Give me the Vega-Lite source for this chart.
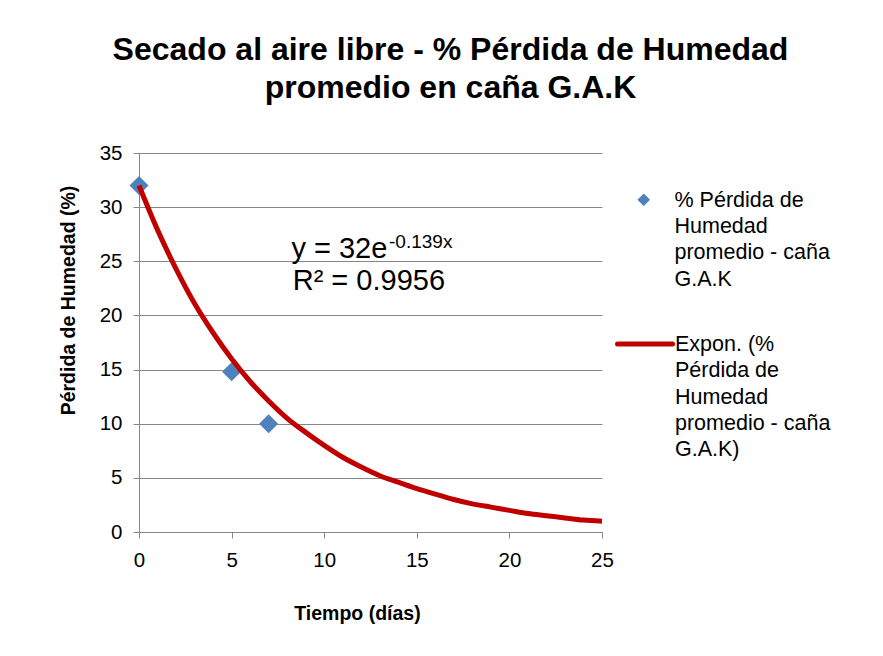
{
  "$schema": "https://vega.github.io/schema/vega-lite/v6.json",
  "width": 463,
  "height": 379,
  "autosize": {"type": "none"},
  "padding": {"left": 139, "top": 153, "right": 281, "bottom": 124},
  "background": "white",
  "config": {
    "font": "Liberation Sans",
    "view": {"stroke": null},
    "axis": {
      "domainColor": "#868686",
      "tickColor": "#868686",
      "gridColor": "#868686",
      "gridOpacity": 1,
      "labelColor": "black",
      "titleColor": "black",
      "labelFont": "Liberation Sans",
      "titleFont": "Liberation Sans",
      "labelFontSize": 20.5,
      "titleFontSize": 19.5,
      "titleFontWeight": "bold",
      "tickSize": 6
    },
    "legend": {"labelFont": "Liberation Sans", "labelColor": "black", "labelFontSize": 21.5, "labelLimit": 400, "padding": 0}
  },
  "title": {
    "text": ["Secado al aire libre - % Pérdida de Humedad", "promedio en caña G.A.K"],
    "font": "Liberation Sans",
    "fontSize": 32,
    "fontWeight": "bold",
    "lineHeight": 38,
    "color": "black",
    "anchor": "middle",
    "dx": 80,
    "offset": 38
  },
  "layer": [
    {
      "data": {"values": [
        {"dia": 0, "perdida": 32, "serie": "% Pérdida de Humedad promedio - caña G.A.K"},
        {"dia": 5, "perdida": 14.8, "serie": "% Pérdida de Humedad promedio - caña G.A.K"},
        {"dia": 7, "perdida": 10, "serie": "% Pérdida de Humedad promedio - caña G.A.K"}
      ]},
      "mark": {"type": "point", "shape": "diamond", "filled": true, "size": 361, "opacity": 1},
      "encoding": {
        "x": {"field": "dia", "type": "quantitative", "scale": {"domain": [0, 25], "nice": false},
          "axis": {"title": "Tiempo (días)", "values": [0, 5, 10, 15, 20, 25], "grid": false, "labelPadding": 12, "labelFlush": false,
            "titleX": 218, "titleY": 87, "titleBaseline": "alphabetic", "titleAlign": "center"}},
        "y": {"field": "perdida", "type": "quantitative", "scale": {"domain": [0, 35], "nice": false},
          "axis": {"title": "Pérdida de Humedad (%)", "values": [0, 5, 10, 15, 20, 25, 30, 35], "grid": true, "labelPadding": 11,
            "titleX": -71, "titleY": 147, "titleBaseline": "middle", "titleAlign": "center", "titleAngle": -90}},
        "color": {"field": "serie", "type": "nominal", "scale": {"range": ["#4F81BD"]},
          "legend": {"title": null, "orient": "none", "legendX": 494, "legendY": 36, "symbolType": "diamond", "symbolSize": 160,
            "labelOffset": 20, "labelBaseline": "alphabetic",
            "labelExpr": "['% Pérdida de', 'Humedad', 'promedio - caña', 'G.A.K']",
            "encoding": {"labels": {"dy": {"value": 7}, "lineHeight": {"value": 26.3}}}}}
      }
    },
    {
      "data": {"values": [
        {"dia": 0, "perdida": 32.0, "serie": "Expon. (% Pérdida de Humedad promedio - caña G.A.K)"},
        {"dia": 1, "perdida": 27.9, "serie": "Expon. (% Pérdida de Humedad promedio - caña G.A.K)"},
        {"dia": 2, "perdida": 24.3, "serie": "Expon. (% Pérdida de Humedad promedio - caña G.A.K)"},
        {"dia": 3, "perdida": 21.1, "serie": "Expon. (% Pérdida de Humedad promedio - caña G.A.K)"},
        {"dia": 4, "perdida": 18.4, "serie": "Expon. (% Pérdida de Humedad promedio - caña G.A.K)"},
        {"dia": 5, "perdida": 16.0, "serie": "Expon. (% Pérdida de Humedad promedio - caña G.A.K)"},
        {"dia": 6, "perdida": 13.9, "serie": "Expon. (% Pérdida de Humedad promedio - caña G.A.K)"},
        {"dia": 7, "perdida": 12.1, "serie": "Expon. (% Pérdida de Humedad promedio - caña G.A.K)"},
        {"dia": 8, "perdida": 10.5, "serie": "Expon. (% Pérdida de Humedad promedio - caña G.A.K)"},
        {"dia": 9, "perdida": 9.2, "serie": "Expon. (% Pérdida de Humedad promedio - caña G.A.K)"},
        {"dia": 10, "perdida": 8.0, "serie": "Expon. (% Pérdida de Humedad promedio - caña G.A.K)"},
        {"dia": 11, "perdida": 6.9, "serie": "Expon. (% Pérdida de Humedad promedio - caña G.A.K)"},
        {"dia": 12, "perdida": 6.0, "serie": "Expon. (% Pérdida de Humedad promedio - caña G.A.K)"},
        {"dia": 13, "perdida": 5.2, "serie": "Expon. (% Pérdida de Humedad promedio - caña G.A.K)"},
        {"dia": 14, "perdida": 4.6, "serie": "Expon. (% Pérdida de Humedad promedio - caña G.A.K)"},
        {"dia": 15, "perdida": 4.0, "serie": "Expon. (% Pérdida de Humedad promedio - caña G.A.K)"},
        {"dia": 16, "perdida": 3.5, "serie": "Expon. (% Pérdida de Humedad promedio - caña G.A.K)"},
        {"dia": 17, "perdida": 3.0, "serie": "Expon. (% Pérdida de Humedad promedio - caña G.A.K)"},
        {"dia": 18, "perdida": 2.6, "serie": "Expon. (% Pérdida de Humedad promedio - caña G.A.K)"},
        {"dia": 19, "perdida": 2.3, "serie": "Expon. (% Pérdida de Humedad promedio - caña G.A.K)"},
        {"dia": 20, "perdida": 2.0, "serie": "Expon. (% Pérdida de Humedad promedio - caña G.A.K)"},
        {"dia": 21, "perdida": 1.7, "serie": "Expon. (% Pérdida de Humedad promedio - caña G.A.K)"},
        {"dia": 22, "perdida": 1.5, "serie": "Expon. (% Pérdida de Humedad promedio - caña G.A.K)"},
        {"dia": 23, "perdida": 1.3, "serie": "Expon. (% Pérdida de Humedad promedio - caña G.A.K)"},
        {"dia": 24, "perdida": 1.1, "serie": "Expon. (% Pérdida de Humedad promedio - caña G.A.K)"},
        {"dia": 25, "perdida": 1.0, "serie": "Expon. (% Pérdida de Humedad promedio - caña G.A.K)"}
      ]},
      "mark": {"type": "line", "strokeWidth": 5, "interpolate": "monotone"},
      "encoding": {
        "x": {"field": "dia", "type": "quantitative"},
        "y": {"field": "perdida", "type": "quantitative"},
        "color": {"field": "serie", "type": "nominal", "scale": {"range": ["#C00000"]},
          "legend": {"title": null, "orient": "none", "legendX": 476, "legendY": 161, "symbolType": "stroke", "symbolSize": 3025,
            "symbolStrokeWidth": 5, "labelOffset": 0, "labelBaseline": "alphabetic",
            "labelExpr": "['Expon. (%', 'Pérdida de', 'Humedad', 'promedio - caña', 'G.A.K)']",
            "encoding": {"labels": {"dy": {"value": 7}, "lineHeight": {"value": 26.3}}, "symbols": {"strokeCap": {"value": "round"}}}}}
      }
    },
    {
      "data": {"values": [
        {"x": 8.23, "y": 25.3, "t": "y = 32e"},
        {"x": 8.3, "y": 22.35, "t": "R² = 0.9956"}
      ]},
      "mark": {"type": "text", "align": "left", "baseline": "alphabetic", "fontSize": 29, "font": "Liberation Sans", "color": "black"},
      "encoding": {
        "x": {"field": "x", "type": "quantitative"},
        "y": {"field": "y", "type": "quantitative"},
        "text": {"field": "t"}
      }
    },
    {
      "data": {"values": [
        {"x": 13.5, "y": 26.26, "t": "-0.139x"}
      ]},
      "mark": {"type": "text", "align": "left", "baseline": "alphabetic", "fontSize": 19, "font": "Liberation Sans", "color": "black"},
      "encoding": {
        "x": {"field": "x", "type": "quantitative"},
        "y": {"field": "y", "type": "quantitative"},
        "text": {"field": "t"}
      }
    }
  ],
  "resolve": {"scale": {"color": "independent"}}
}
